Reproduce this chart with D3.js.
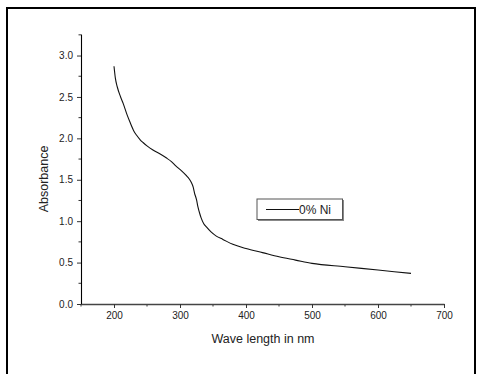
<!DOCTYPE html>
<html>
<head>
<meta charset="utf-8">
<script src="https://cdn.jsdelivr.net/npm/d3@7"></script>
<style>
  body { margin: 0; background: #fff; }
  svg { display: block; font-family: "Liberation Sans", Arial, sans-serif; }
</style>
</head>
<body>
<svg id="chart" width="479" height="374"></svg>
<script>
// absorbance spectrum
var wavelength = [200, 202, 205, 210, 214, 220, 224, 230, 234, 240, 244, 250, 259, 270, 279, 287, 294, 302, 309, 314, 317, 320, 322, 325, 327, 330, 332, 336, 340, 347, 355, 365, 380, 400, 425, 450, 475, 500, 550, 600, 650];
var absorbance = [2.87, 2.73, 2.62, 2.50, 2.42, 2.28, 2.20, 2.09, 2.04, 1.98, 1.95, 1.91, 1.86, 1.81, 1.765, 1.72, 1.665, 1.61, 1.555, 1.51, 1.47, 1.41, 1.34, 1.26, 1.18, 1.09, 1.04, 0.97, 0.93, 0.87, 0.82, 0.78, 0.72, 0.67, 0.62, 0.57, 0.53, 0.49, 0.45, 0.41, 0.37];
var xTicks = [200, 300, 400, 500, 600, 700];
var yTicks = [0.0, 0.5, 1.0, 1.5, 2.0, 2.5, 3.0];
var seriesName = "0% Ni";

var svg = d3.select("#chart");

var x = d3.scaleLinear().domain([150, 700]).range([81, 444]);
var y = d3.scaleLinear().domain([0, 3.26]).range([304, 34]);

// outer frame (no bottom edge)
svg.append("path")
  .attr("d", "M7,374 L7,8 L475,8 L475,374")
  .attr("fill", "none")
  .attr("stroke", "#000")
  .attr("stroke-width", 2);

// minor ticks
var xMinor = d3.range(150, 701, 50).filter(function(v) { return v % 100 !== 0; });
var yMinor = d3.range(0.25, 3.26, 0.5);

svg.selectAll(".xminor").data(xMinor).enter().append("line")
  .attr("x1", function(d) { return x(d); }).attr("x2", function(d) { return x(d); })
  .attr("y1", 304).attr("y2", 306.5)
  .attr("stroke", "#333").attr("stroke-width", 1);

svg.selectAll(".yminor").data(yMinor).enter().append("line")
  .attr("x1", 78.5).attr("x2", 81)
  .attr("y1", function(d) { return y(d); }).attr("y2", function(d) { return y(d); })
  .attr("stroke", "#333").attr("stroke-width", 1);

// x axis
var gx = svg.append("g").attr("transform", "translate(0,304)")
  .call(d3.axisBottom(x).tickValues(xTicks).tickFormat(d3.format("d")).tickSize(4).tickSizeOuter(0).tickPadding(4));
gx.select(".domain").attr("stroke", "#444").attr("stroke-width", 1.3);
gx.selectAll(".tick line").attr("stroke", "#333");
gx.selectAll("text").attr("fill", "#222").style("font-size", "10px").style("font-family", "Liberation Sans, Arial, sans-serif");

// y axis
var gy = svg.append("g").attr("transform", "translate(81,0)")
  .call(d3.axisLeft(y).tickValues(yTicks).tickFormat(d3.format(".1f")).tickSize(4).tickSizeOuter(0).tickPadding(4));
gy.select(".domain").attr("stroke", "#000").attr("stroke-width", 1.1);
gy.selectAll(".tick line").attr("stroke", "#333");
gy.selectAll("text").attr("fill", "#222").style("font-size", "10px").style("font-family", "Liberation Sans, Arial, sans-serif");

// axis titles
svg.append("text")
  .attr("x", 263).attr("y", 343)
  .attr("text-anchor", "middle")
  .style("font-size", "12.5px")
  .attr("fill", "#222")
  .text("Wave length in nm");

svg.append("text")
  .attr("transform", "translate(48,179) rotate(-90)")
  .attr("text-anchor", "middle")
  .style("font-size", "12.5px")
  .attr("fill", "#222")
  .text("Absorbance");

// curve
var pts = wavelength.map(function(w, i) { return [w, absorbance[i]]; });
svg.append("path")
  .datum(pts)
  .attr("fill", "none")
  .attr("stroke", "#111")
  .attr("stroke-width", 1.1)
  .attr("d", d3.line()
    .x(function(d) { return x(d[0]); })
    .y(function(d) { return y(d[1]); })
    .curve(d3.curveMonotoneX));

// legend
var lg = svg.append("g").attr("transform", "translate(257,199)");
lg.append("rect")
  .attr("x", 1).attr("y", 1).attr("width", 86).attr("height", 21)
  .attr("fill", "#888");
lg.append("rect")
  .attr("x", 0).attr("y", 0).attr("width", 85.5).attr("height", 20.5)
  .attr("fill", "#fff").attr("stroke", "#555").attr("stroke-width", 1);
lg.append("line")
  .attr("x1", 9).attr("x2", 42).attr("y1", 10.5).attr("y2", 10.5)
  .attr("stroke", "#111").attr("stroke-width", 1);
lg.append("text")
  .attr("x", 42).attr("y", 15)
  .style("font-size", "12px")
  .attr("fill", "#222")
  .text(seriesName);
</script>
</body>
</html>
